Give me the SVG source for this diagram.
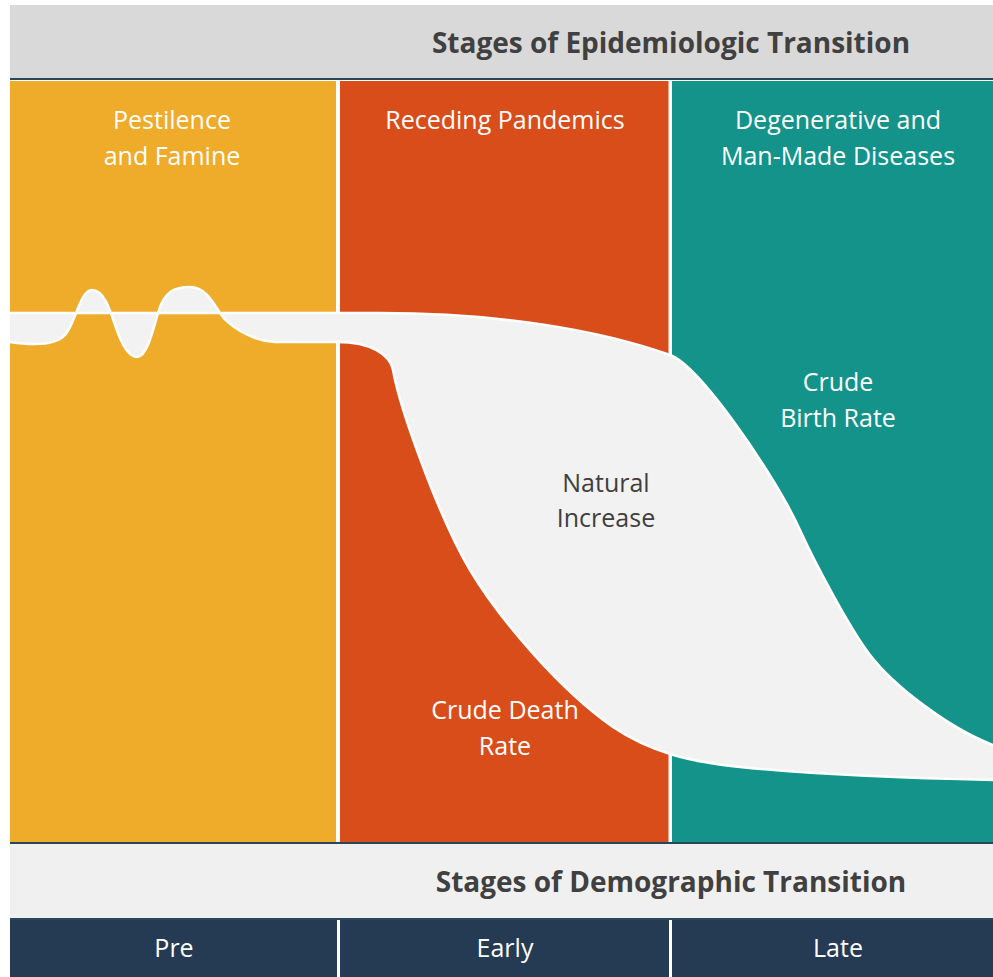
<svg xmlns="http://www.w3.org/2000/svg" width="993" height="977" viewBox="0 0 993 977">
  <style>
    .title { font-family: "Open Sans", "Liberation Sans", sans-serif; font-size: 28px; font-weight: 700; fill: #404040; text-anchor: middle; }
    .label { font-family: "Open Sans", "Liberation Sans", sans-serif; font-size: 25px; fill: #ffffff; text-anchor: middle; }
    .inner { font-family: "Open Sans", "Liberation Sans", sans-serif; font-size: 25px; fill: #404040; text-anchor: middle; }
    .rule { fill: #28485a; }
    .curve { fill: none; stroke: #ffffff; stroke-width: 2.5; }
  </style>

  <rect width="993" height="977" fill="#ffffff"/>

  <!-- header: epidemiologic stages -->
  <g id="header-epidemiologic">
    <rect x="10" y="5" width="983" height="74" fill="#d9d9d9"/>
    <rect class="rule" x="10" y="78" width="983" height="2"/>
    <text class="title" x="671" y="53">Stages of Epidemiologic Transition</text>
  </g>

  <!-- stage columns -->
  <g id="stage-pestilence">
    <rect x="10" y="81" width="326" height="761" fill="#efab2a"/>
    <text class="label" x="172" y="129">Pestilence</text>
    <text class="label" x="172" y="165">and Famine</text>
  </g>
  <g id="stage-receding">
    <rect x="340" y="81" width="328.5" height="761" fill="#d94d1a"/>
    <text class="label" x="505" y="129">Receding Pandemics</text>
  </g>
  <g id="stage-degenerative">
    <rect x="672" y="81" width="321" height="761" fill="#13938a"/>
    <text class="label" x="838" y="129">Degenerative and</text>
    <text class="label" x="838" y="165">Man-Made Diseases</text>
  </g>

  <!-- natural increase band between birth and death rates -->
  <g id="natural-increase">
    <path fill="#f2f2f2" d="M10,313 L380,313 C500,313 600,330 670,355 C700,366 775,475 800,530 C815,563 850,629 870,655 C893,685 948,728 993,745 L993,780 C900,778 800,773 740,767 C690,762 650,752 613,727 C560,690 500,620 470,570 C440,520 400,410 393,370 C390,355 372,342 337,342 L275,342 C250,341 227,324 220,313 C213,302 205,287 190,287 C175,287 164,291 158,313 C152,335 146,357 137,357 C128,357 120,340 115,325 C110,310 104,290 92,290 C80,290 75,325 65,335 C55,346 30,345 10,342 Z"/>
    <text class="inner" x="606" y="492">Natural</text>
    <text class="inner" x="606" y="527">Increase</text>
  </g>

  <g id="connectors">
    <!-- crude birth rate -->
    <path id="birth-rate" class="curve" d="M10,313 L380,313 C500,313 600,330 670,355 C700,366 775,475 800,530 C815,563 850,629 870,655 C893,685 948,728 993,745"/>
    <!-- crude death rate -->
    <path id="death-rate" class="curve" d="M10,342 C30,345 55,346 65,335 C75,325 80,290 92,290 C104,290 110,310 115,325 C120,340 128,357 137,357 C146,357 152,335 158,313 C164,291 175,287 190,287 C205,287 213,302 220,313 C227,324 250,341 275,342 L337,342 C372,342 390,355 393,370 C400,410 440,520 470,570 C500,620 560,690 613,727 C650,752 690,762 740,767 C800,773 900,778 993,780"/>
  </g>

  <g id="label-birth-rate">
    <text class="label" x="838" y="391">Crude</text>
    <text class="label" x="838" y="427">Birth Rate</text>
  </g>
  <g id="label-death-rate">
    <text class="label" x="505" y="719">Crude Death</text>
    <text class="label" x="505" y="755">Rate</text>
  </g>

  <!-- footer: demographic stages -->
  <g id="header-demographic">
    <rect class="rule" x="10" y="842" width="983" height="2"/>
    <rect x="10" y="844" width="983" height="74" fill="#f0f0f0"/>
    <rect class="rule" x="10" y="918" width="983" height="2"/>
    <text class="title" x="671" y="892">Stages of Demographic Transition</text>
  </g>
  <g id="demo-pre">
    <rect x="10" y="920" width="327" height="57" fill="#253a53"/>
    <text class="label" x="174" y="957">Pre</text>
  </g>
  <g id="demo-early">
    <rect x="340" y="920" width="329" height="57" fill="#253a53"/>
    <text class="label" x="505" y="957">Early</text>
  </g>
  <g id="demo-late">
    <rect x="672" y="920" width="321" height="57" fill="#253a53"/>
    <text class="label" x="838" y="957">Late</text>
  </g>
</svg>
